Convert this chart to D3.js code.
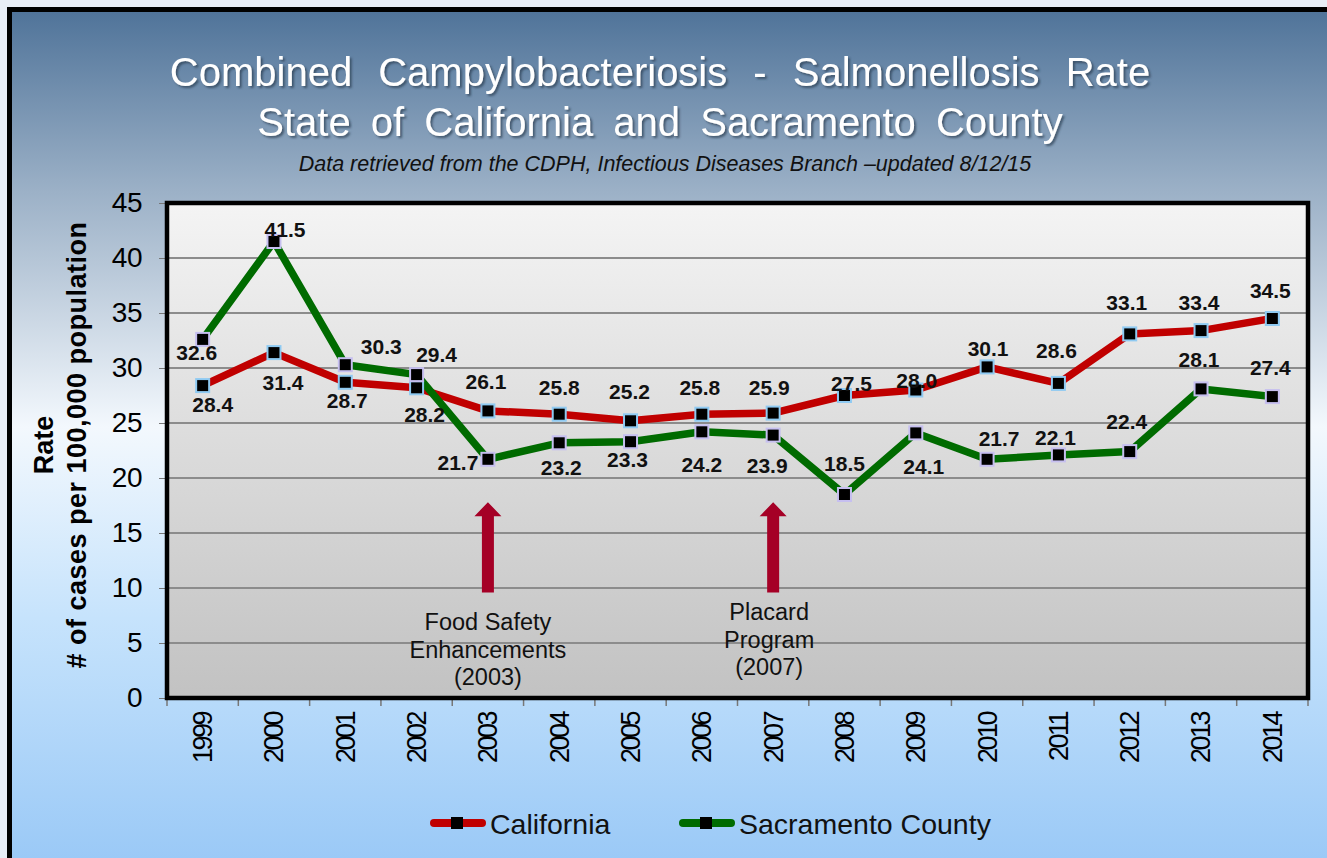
<!DOCTYPE html>
<html>
<head>
<meta charset="utf-8">
<script src="https://cdn.jsdelivr.net/npm/d3@7"></script>
<style>
  html, body { margin: 0; padding: 0; background: #e8eef7; }
  svg { display: block; font-family: "Liberation Sans", Arial, sans-serif; }
</style>
</head>
<body>
<svg width="1327" height="858"></svg>
<script>
var years = ['1999', '2000', '2001', '2002', '2003', '2004', '2005', '2006',
  '2007', '2008', '2009', '2010', '2011', '2012', '2013', '2014'];
var california = [28.4, 31.4, 28.7, 28.2, 26.1, 25.8, 25.2, 25.8, 25.9, 27.5, 28.0, 30.1, 28.6, 33.1, 33.4, 34.5];
var sacramento = [32.6, 41.5, 30.3, 29.4, 21.7, 23.2, 23.3, 24.2, 23.9, 18.5, 24.1, 21.7, 22.1, 22.4, 28.1, 27.4];
var yTicks = [0, 5, 10, 15, 20, 25, 30, 35, 40, 45];

// where each value label sits relative to its marker [dx, dy]
var caLabelOffsets = [[10, 19], [9, 30], [2, 18], [8, 27], [-2, -29], [0, -27], [-1, -29], [-2, -27],
  [-4, -26], [7, -12], [1, -10], [1, -18], [-2, -33], [-3, -31], [-2, -28], [-2, -28]];
var sacLabelOffsets = [[-6, 13], [11, -12], [36, -18], [20, -20], [-30, 3], [2, 25], [-3, 18], [0, 33],
  [-6, 30], [0, -31], [8, 34], [12, -21], [-3, -17], [-3, -30], [-2, -29], [-2, -29]];

var annotations = [
  { year: '2003', from: 9.6, to: 17.8, lines: ['Food Safety', 'Enhancements', '(2003)'] },
  { year: '2007', from: 9.6, to: 17.8, lines: ['Placard', 'Program', '(2007)'] }
];

var series = [
  { name: 'California', values: california, color: '#c00000', edge: '#8fcaf2', offsets: caLabelOffsets },
  { name: 'Sacramento County', values: sacramento, color: '#006b00', edge: '#c6bff0', offsets: sacLabelOffsets }
];

var svg = d3.select('svg');
var defs = svg.append('defs');

var bg = defs.append('linearGradient').attr('id', 'bg')
  .attr('x1', 0).attr('y1', 0).attr('x2', 0).attr('y2', 1);
[[0, '#4f7399'], [0.21, '#9cb1c7'], [0.48, '#f3f8fd'], [0.7, '#c6e3fc'], [1, '#97c7f6']].forEach(function (s) {
  bg.append('stop').attr('offset', s[0]).attr('stop-color', s[1]);
});

var plotBg = defs.append('linearGradient').attr('id', 'plotbg')
  .attr('x1', 0).attr('y1', 0).attr('x2', 0).attr('y2', 1);
plotBg.append('stop').attr('offset', 0).attr('stop-color', '#f4f4f4');
plotBg.append('stop').attr('offset', 1).attr('stop-color', '#c2c2c2');

var shadow = defs.append('filter').attr('id', 'shadow')
  .attr('x', '-5%').attr('y', '-20%').attr('width', '110%').attr('height', '150%');
shadow.append('feDropShadow').attr('dx', 2).attr('dy', 2).attr('stdDeviation', 1.2)
  .attr('flood-color', '#2a3a50').attr('flood-opacity', 0.7);

// outer frame
svg.append('rect')
  .attr('x', 9.5).attr('y', 9.5).attr('width', 1340).attr('height', 870)
  .attr('fill', 'url(#bg)').attr('stroke', '#000').attr('stroke-width', 5);

// titles
svg.append('text').attr('x', 660).attr('y', 86).attr('text-anchor', 'middle')
  .attr('font-size', 40).attr('fill', '#fff').attr('word-spacing', 15).attr('filter', 'url(#shadow)')
  .text('Combined Campylobacteriosis - Salmonellosis Rate');
svg.append('text').attr('x', 660).attr('y', 136).attr('text-anchor', 'middle')
  .attr('font-size', 40).attr('fill', '#fff').attr('word-spacing', 9).attr('filter', 'url(#shadow)')
  .text('State of California and Sacramento County');
svg.append('text').attr('x', 665).attr('y', 171).attr('text-anchor', 'middle')
  .attr('font-size', 21.5).attr('font-style', 'italic').attr('fill', '#111')
  .text('Data retrieved from the CDPH, Infectious Diseases Branch \u2013updated 8/12/15');

var plotL = 167, plotR = 1308, plotT = 203, plotB = 698;

var x = d3.scaleBand().domain(years).range([plotL, plotR]).padding(0);
var y = d3.scaleLinear().domain([0, 45]).range([plotB, plotT]);
var cx = function (i) { return x(years[i]) + x.bandwidth() / 2; };

// plot area
svg.append('rect')
  .attr('x', plotL).attr('y', plotT).attr('width', plotR - plotL).attr('height', plotB - plotT)
  .attr('fill', 'url(#plotbg)');

svg.append('g').selectAll('line').data(yTicks.slice(1, -1)).enter().append('line')
  .attr('x1', plotL).attr('x2', plotR)
  .attr('y1', function (d) { return y(d); }).attr('y2', function (d) { return y(d); })
  .attr('stroke', '#8c8c8c').attr('stroke-width', 1.8);

// y axis
var yAxis = svg.append('g').attr('transform', 'translate(' + plotL + ',0)')
  .call(d3.axisLeft(y).tickValues(yTicks).tickSize(8).tickPadding(17));
yAxis.select('.domain').remove();
yAxis.selectAll('line').attr('stroke', '#777');
yAxis.selectAll('text').attr('font-size', 28).attr('fill', '#000').attr('font-family', null)
  .attr('letter-spacing', -0.5);

// x axis
var xAxis = svg.append('g').attr('transform', 'translate(0,' + plotB + ')')
  .call(d3.axisBottom(x).tickSize(0));
xAxis.select('.domain').remove();
xAxis.selectAll('text')
  .attr('font-size', 27).attr('fill', '#000').attr('font-family', null)
  .attr('letter-spacing', -2.5)
  .attr('text-anchor', 'end')
  .attr('transform', 'rotate(-90)')
  .attr('x', -15).attr('y', 0).attr('dy', '0.35em');
svg.append('g').selectAll('line').data(years.concat(['end'])).enter().append('line')
  .attr('x1', function (d, i) { return plotL + i * x.bandwidth(); })
  .attr('x2', function (d, i) { return plotL + i * x.bandwidth(); })
  .attr('y1', plotB).attr('y2', plotB + 8)
  .attr('stroke', '#777').attr('stroke-width', 1.5);

// plot frame
svg.append('rect')
  .attr('x', plotL).attr('y', plotT).attr('width', plotR - plotL).attr('height', plotB - plotT)
  .attr('fill', 'none').attr('stroke', '#000').attr('stroke-width', 4.5);

// y axis title
var yt = svg.append('text').attr('transform', 'translate(53,445) rotate(-90)')
  .attr('text-anchor', 'middle').attr('font-weight', 'bold').attr('font-size', 27).attr('fill', '#000');
yt.append('tspan').attr('x', 0).attr('y', 0).text('Rate');
yt.append('tspan').attr('x', 0).attr('y', 33).attr('letter-spacing', 0.5).text('# of cases per 100,000 population');

// annotation arrows
annotations.forEach(function (a) {
  var ax = cx(years.indexOf(a.year));
  var yTip = y(a.to), yBase = y(a.from), headH = 14, shaft = 6, head = 13.5;
  svg.append('path')
    .attr('d', 'M' + ax + ',' + yTip +
      'L' + (ax + head) + ',' + (yTip + headH) +
      'L' + (ax + shaft) + ',' + (yTip + headH) +
      'L' + (ax + shaft) + ',' + yBase +
      'L' + (ax - shaft) + ',' + yBase +
      'L' + (ax - shaft) + ',' + (yTip + headH) +
      'L' + (ax - head) + ',' + (yTip + headH) + 'Z')
    .attr('fill', '#a50026');
  var t = svg.append('text').attr('text-anchor', 'middle').attr('font-size', 23.5).attr('fill', '#111');
  var extra = a.year === '2007' ? -10 : 0;
  a.lines.forEach(function (ln, k) {
    t.append('tspan').attr('x', ax - (a.year === '2007' ? 4 : 0))
      .attr('y', yBase + 38 + extra + k * 27.5).text(ln);
  });
});

// lines, markers, labels
var line = d3.line()
  .x(function (d, i) { return cx(i); })
  .y(function (d) { return y(d); });

series.forEach(function (s) {
  svg.append('path').datum(s.values)
    .attr('d', line)
    .attr('fill', 'none').attr('stroke', s.color).attr('stroke-width', 7.5)
    .attr('stroke-linejoin', 'round');
});

series.forEach(function (s) {
  var g = svg.append('g');
  g.selectAll('rect').data(s.values).enter().append('rect')
    .attr('x', function (d, i) { return cx(i) - 6.5; })
    .attr('y', function (d) { return y(d) - 6.5; })
    .attr('width', 13).attr('height', 13)
    .attr('fill', '#000').attr('stroke', s.edge).attr('stroke-width', 2);
  g.selectAll('text').data(s.values).enter().append('text')
    .attr('x', function (d, i) { return cx(i) + s.offsets[i][0]; })
    .attr('y', function (d, i) { return y(d) + s.offsets[i][1]; })
    .attr('dy', '0.36em')
    .attr('text-anchor', 'middle').attr('font-weight', 'bold').attr('font-size', 21).attr('fill', '#111')
    .text(function (d) { return d.toFixed(1); });
});

// legend
var legend = svg.append('g');
var legendX = [430, 679];
series.forEach(function (s, i) {
  var lx = legendX[i], ly = 823;
  legend.append('line').attr('x1', lx + 4).attr('x2', lx + 52).attr('y1', ly).attr('y2', ly)
    .attr('stroke', s.color).attr('stroke-width', 8).attr('stroke-linecap', 'round');
  legend.append('rect').attr('x', lx + 21).attr('y', ly - 6).attr('width', 12).attr('height', 12).attr('fill', '#000');
  legend.append('text').attr('x', lx + 60).attr('y', ly + 10.5)
    .attr('font-size', 28.5).attr('fill', '#111').text(s.name);
});
</script>
</body>
</html>
